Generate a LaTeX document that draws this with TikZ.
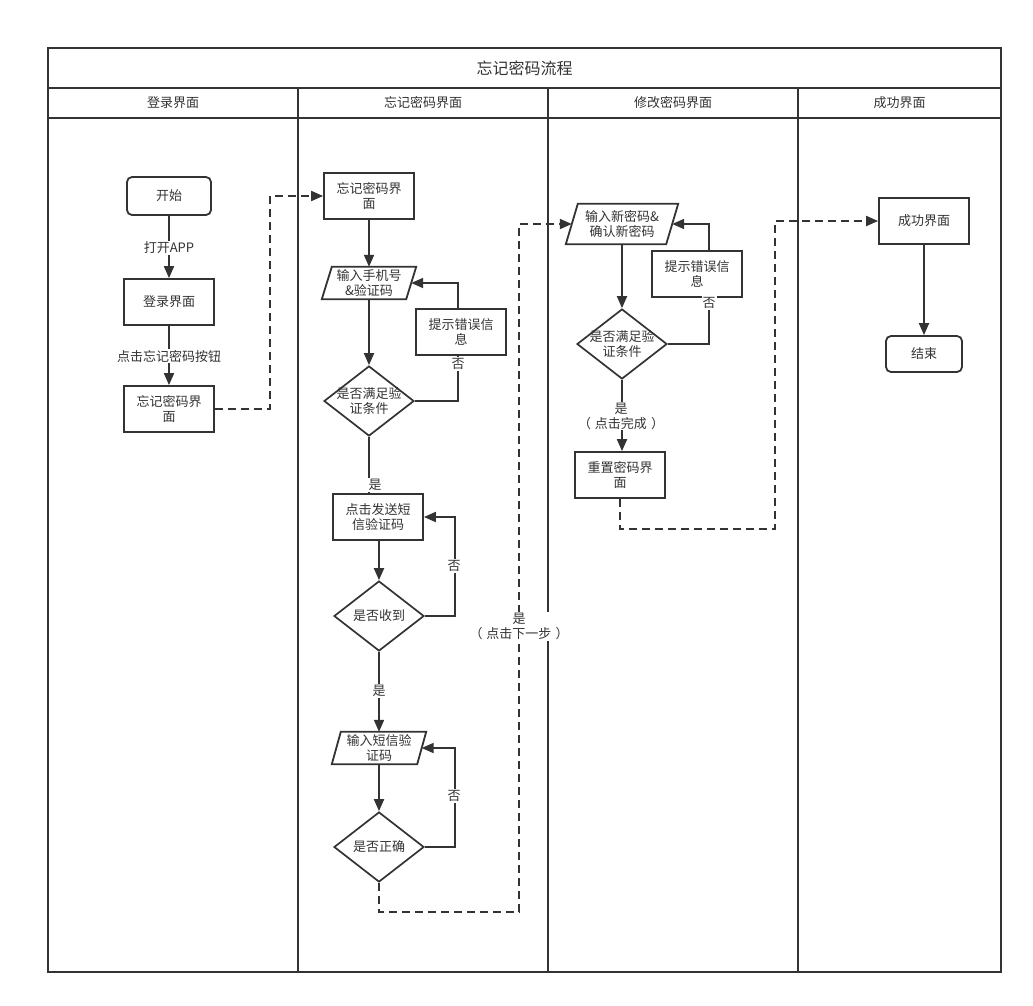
\documentclass[tikz,border=0pt]{standalone}
\usepackage{fontspec}
\setmainfont{Noto Sans CJK SC}
\usetikzlibrary{shapes.geometric,arrows.meta}
\definecolor{ink}{HTML}{333333}
\newcommand\myfnt{\fontsize{13pt}{15pt}\selectfont}
\newcommand\myttl{\fontsize{16pt}{18pt}\selectfont}
\begin{document}
\begin{tikzpicture}[x=1pt,y=-1pt,
  frame/.style={draw=ink, line width=2pt},
  box/.style={draw=ink, line width=1.8pt, minimum width=90pt, minimum height=46pt, inner sep=0pt, align=center, text=ink, font=\myfnt},
  rbox/.style={box, rounded corners=5pt},
  dia/.style={diamond, draw=ink, line width=1.7pt, minimum width=90pt, minimum height=70pt, inner sep=0pt},
  dtext/.style={align=center, text=ink, font=\myfnt, inner sep=0pt},
  para/.style={minimum height=32pt, inner sep=0pt, align=center, text=ink, font=\myfnt},
  pline/.style={draw=ink, line width=1.8pt},
  flow/.style={draw=ink, line width=1.9pt, -{Triangle[length=12pt,width=10pt]}},
  plain/.style={draw=ink, line width=1.9pt},
  dashflow/.style={flow, dash pattern=on 8pt off 5pt},
  lbl/.style={fill=white, inner sep=1pt, text=ink, font=\myfnt, align=center},
  hdr/.style={text=ink, font=\myfnt}]
\useasboundingbox (0,0) rectangle (1033,1005);

% frame
\draw[frame] (48,48) rectangle (1001,972);
\draw[frame] (48,88) -- (1001,88);
\draw[frame] (48,118) -- (1001,118);
\draw[frame] (298,88) -- (298,972);
\draw[frame] (548,88) -- (548,972);
\draw[frame] (798,88) -- (798,972);
\node[text=ink, font=\myttl] (title) at (524.5,68) {忘记密码流程};
\node[hdr] (h1) at (173,103) {登录界面};
\node[hdr] (h2) at (423,103) {忘记密码界面};
\node[hdr] (h3) at (673,103) {修改密码界面};
\node[hdr] (h4) at (899.5,103) {成功界面};

% lane 1
\node[rbox, minimum width=84pt, minimum height=38pt] (start) at (169,196) {开始};
\node[box] (login) at (169,302) {登录界面};
\node[box] (fpa) at (169,409) {忘记密码界\\面};

% lane 2
\node[box] (fpb) at (369,196) {忘记密码界\\面};
\node[para, minimum width=94pt] (p1) at (369,283) {输入手机号\\\&验证码};
\draw[pline] ([xshift=10pt]p1.north west) -- (p1.north east) -- ([xshift=-10pt]p1.south east) -- (p1.south west) -- cycle;
\node[box] (err1) at (461,332) {提示错误信\\息};
\node[dia, label={[dtext]center:是否满足验\\证条件}] (d1) at (369,401) {};
\node[box] (sms) at (378,517) {点击发送短\\信验证码};
\node[dia, label={[dtext]center:是否收到}] (d2) at (379,616) {};
\node[para, minimum width=94pt] (p2) at (379,748) {输入短信验\\证码};
\draw[pline] ([xshift=9pt]p2.north west) -- (p2.north east) -- ([xshift=-9pt]p2.south east) -- (p2.south west) -- cycle;
\node[dia, label={[dtext]center:是否正确}] (d3) at (379,847) {};

% lane 3
\node[para, minimum width=112pt, minimum height=40pt] (p3) at (622,224) {输入新密码\&\\确认新密码};
\draw[pline] ([xshift=12pt]p3.north west) -- (p3.north east) -- ([xshift=-12pt]p3.south east) -- (p3.south west) -- cycle;
\node[box] (err2) at (697,274) {提示错误信\\息};
\node[dia, label={[dtext]center:是否满足验\\证条件}] (d4) at (622,344) {};
\node[box] (reset) at (620,475) {重置密码界\\面};

% lane 4
\node[box] (succ) at (924,221) {成功界面};
\node[rbox, minimum width=76pt, minimum height=36pt] (end) at (924,354) {结束};

% connectors lane 1
\draw[flow] (start) -- (login);
\draw[flow] (login) -- (fpa);
\draw[dashflow] (fpa.east) -- ++(55,0) |- (fpb.west);

% lane 2
\draw[flow] (fpb) -- (p1);
\draw[flow] (p1) -- (d1);
\draw[plain] (d1.east) -| ([xshift=-3pt]err1.south);
\draw[flow] ([xshift=-3pt]err1.north) |- ([xshift=-5pt]p1.east);
\draw[plain] (d1.south) -- (d1.south |- sms.north);
\draw[flow] (sms.south -| d2.north) -- (d2.north);
\draw[flow] (d2.east) -- ++(30,0) |- (sms.east);
\draw[flow] (d2) -- (p2);
\draw[flow] (p2) -- (d3);
\draw[flow] (d3.east) -- ++(30,0) |- ([xshift=-4.5pt]p2.east);
\draw[dashflow] (d3.south) -- ++(0,29) -- ++(140,0) |- ([xshift=6pt]p3.west);

% lane 3
\draw[flow] (p3) -- (d4);
\draw[plain] (d4.east) -| ([xshift=12pt]err2.south);
\draw[flow] ([xshift=12pt]err2.north) |- ([xshift=-6pt]p3.east);
\draw[flow] (d4.south) -- (d4.south |- reset.north);
\draw[dashflow] (reset.south) -- ++(0,30) -- ++(155,0) |- (succ.west);

% lane 4
\draw[flow] (succ) -- (end);

% labels
\node[lbl] (l1) at (169,248) {打开APP};
\node[lbl] (l2) at (169,356) {点击忘记密码按钮};
\node[lbl] (l3) at (458,364) {否};
\node[lbl] (l4) at (375,485) {是};
\node[lbl] (l5) at (454,566) {否};
\node[lbl] (l6) at (379,691) {是};
\node[lbl] (l7) at (454,796) {否};
\node[lbl] (l8) at (519,626.5) {是\\（\hspace{4pt}点击下一步\hspace{4pt}）};
\node[lbl] (l9) at (709,303) {否};
\node[lbl] (l10) at (621,416) {是\\（\hspace{4pt}点击完成\hspace{4pt}）};
\end{tikzpicture}
\end{document}
